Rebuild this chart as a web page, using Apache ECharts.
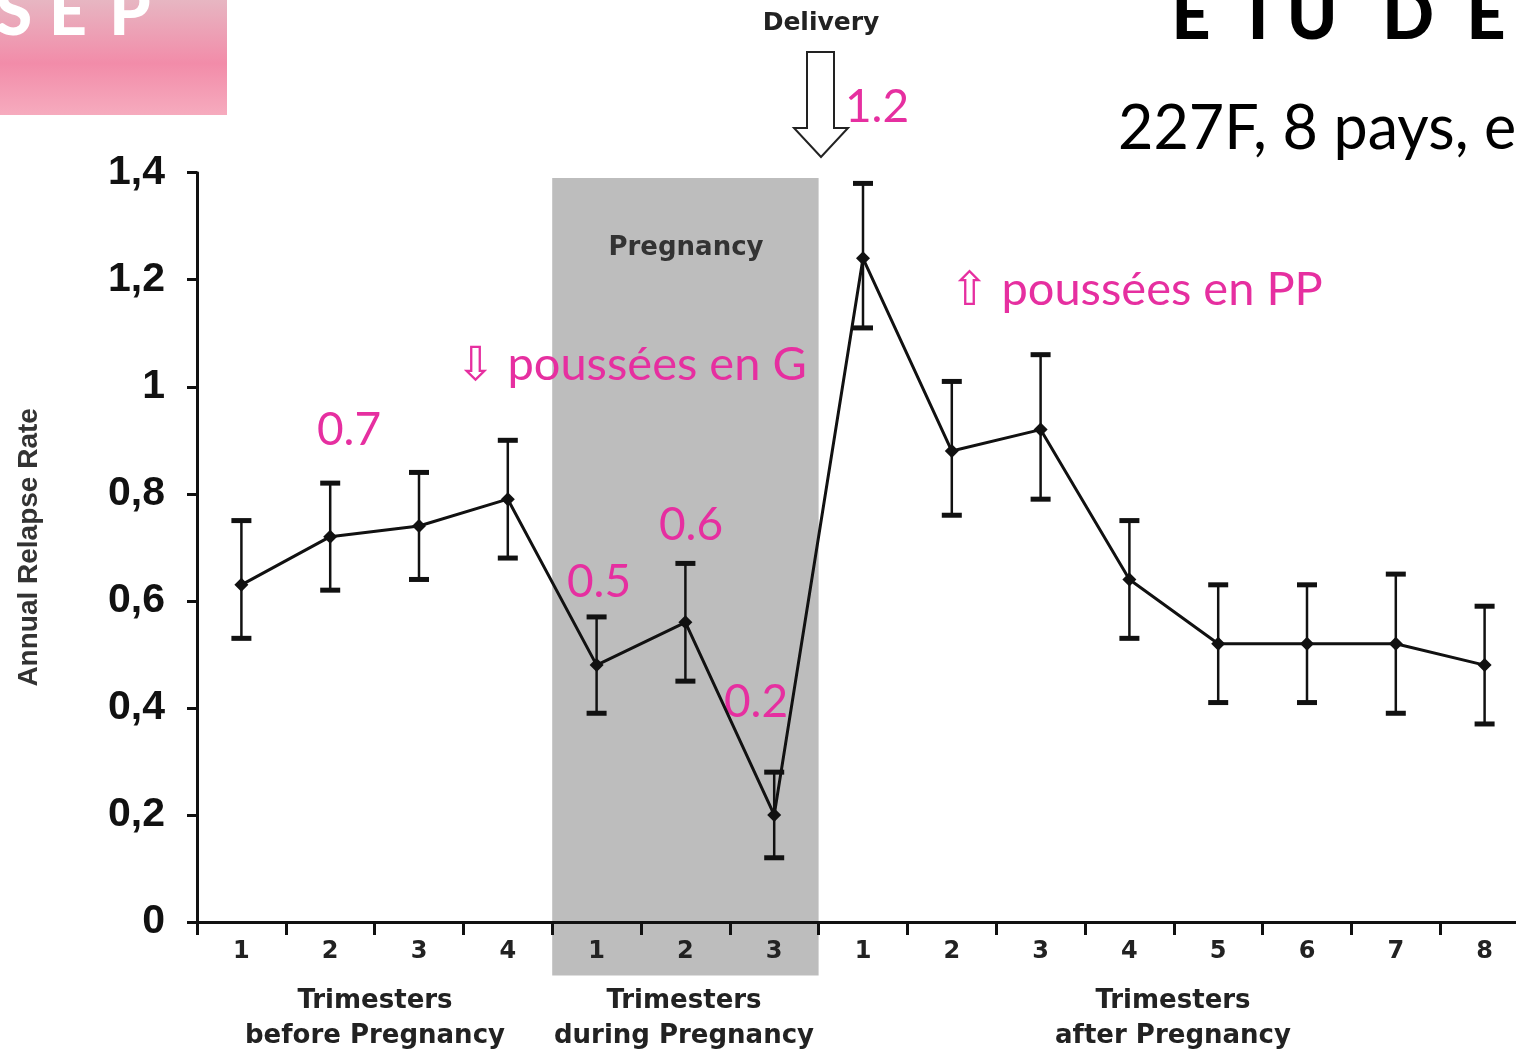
<!DOCTYPE html>
<html><head><meta charset="utf-8">
<script src="https://cdn.jsdelivr.net/npm/echarts@6/dist/echarts.min.js"></script>
<style>html,body{margin:0;padding:0;background:#fff;overflow:hidden}#c{width:1529px;height:1054px}</style>
</head><body><div id="c"></div>
<script>
// ---- data ----
const categories = ['B1','B2','B3','B4','P1','P2','P3','A1','A2','A3','A4','A5','A6','A7','A8'];
const tickLabels = ['1','2','3','4','1','2','3','1','2','3','4','5','6','7','8'];
const relapseRate = [0.63,0.72,0.74,0.79,0.48,0.56,0.20,1.24,0.88,0.92,0.64,0.52,0.52,0.52,0.48];
const errLow  = [0.53,0.62,0.64,0.68,0.39,0.45,0.12,1.11,0.76,0.79,0.53,0.41,0.41,0.39,0.37];
const errHigh = [0.75,0.82,0.84,0.90,0.57,0.67,0.28,1.38,1.01,1.06,0.75,0.63,0.63,0.65,0.59];
const yMin = 0, yMax = 1.4, yInterval = 0.2;
// pregnancy band: first category, last category, bottom value, top value
const pregnancyBand = [[4, 6, -0.1, 1.39]];
const groupLabels = [
  {text:'Trimesters\nbefore Pregnancy', x:375},
  {text:'Trimesters\nduring Pregnancy', x:684},
  {text:'Trimesters\nafter Pregnancy', x:1173}
];
const annotations = [
  {text:'0.7', x:349, y:430},
  {text:'0.5', x:599, y:582},
  {text:'0.6', x:691, y:525},
  {text:'0.2', x:756, y:702},
  {text:'1.2', x:877, y:107}
];

const MAG = '#e62fa0';
const magFont = "Lato, 'DejaVu Sans', sans-serif";

const chart = echarts.init(document.getElementById('c'), null, {renderer:'canvas'});

const graphic = [
  {type:'rect', shape:{x:0,y:0,width:227,height:115}, z:1,
   style:{fill:new echarts.graphic.LinearGradient(0,0,0,1,[
     {offset:0,color:'#e7b6c2'},{offset:0.55,color:'#f28ca9'},{offset:1,color:'#f6abbe'}])}},
  ...[['S',14],['E',68],['P',130]].map(([t,x])=>({type:'text', z:2, x:x, y:47,
     style:{text:t, fill:'#fff', font:"900 66px Lato, sans-serif", textAlign:'center', textVerticalAlign:'bottom'}})),
  ...[['E',1191],['T',1258],['U',1312],['D',1408],['E',1486]].map(([t,x])=>({type:'text', z:2, x:x, y:51,
     style:{text:t, fill:'#000', font:"900 68px Lato, sans-serif", textAlign:'center', textVerticalAlign:'bottom'}})),
  {type:'text', x:1118, y:160, z:2, style:{text:'227F, 8 pays, e', fill:'#000', font:"61px Lato, sans-serif", textAlign:'left', textVerticalAlign:'bottom'}},
  {type:'text', x:821, y:23, z:2, style:{text:'Delivery', fill:'#222', font:"bold 25px 'DejaVu Sans', sans-serif", textAlign:'center', textVerticalAlign:'middle'}},
  {type:'polygon', z:2, shape:{points:[[807,52],[834,52],[834,128],[848,128],[821,157],[794,128],[807,128]]},
   style:{fill:'#fff', stroke:'#222', lineWidth:2}},
  {type:'text', x:686, y:248, z:2, style:{text:'Pregnancy', fill:'#333', font:"bold 26px 'DejaVu Sans', sans-serif", textAlign:'center', textVerticalAlign:'middle'}},
  ...groupLabels.map(g=>({type:'text', x:g.x, y:1019, z:2,
     style:{text:g.text, fill:'#222', font:"bold 26px 'DejaVu Sans', sans-serif", textAlign:'center', textVerticalAlign:'middle', lineHeight:35}})),
  ...annotations.map(a=>({type:'text', x:a.x, y:a.y, z:5,
     style:{text:a.text, fill:MAG, font:"46px "+magFont, textAlign:'center', textVerticalAlign:'middle'}})),
  {type:'text', x:456, y:365, z:5, style:{text:'\u21E9 poussées en G', fill:MAG, font:"47px "+magFont, textAlign:'left', textVerticalAlign:'middle'}},
  {type:'text', x:950, y:290, z:5, style:{text:'\u21E7 poussées en PP', fill:MAG, font:"47px "+magFont, textAlign:'left', textVerticalAlign:'middle'}}
];

chart.setOption({
  backgroundColor:'#fff',
  animation:false,
  grid:{left:197, top:172.7, right:0, bottom:132, containLabel:false, outerBoundsMode:'none'},
  xAxis:{
    type:'category', data:categories, boundaryGap:true,
    axisLine:{show:true, lineStyle:{color:'#111', width:3}},
    axisTick:{show:true, interval:0, length:13, lineStyle:{color:'#111', width:3}},
    axisLabel:{interval:0, margin:18, color:'#222', fontSize:24, fontWeight:'bold', fontFamily:"'DejaVu Sans', sans-serif",
      formatter:(v,i)=>tickLabels[i]},
    splitLine:{show:false}, z:3
  },
  yAxis:{
    type:'value', min:yMin, max:yMax, interval:yInterval,
    name:'Annual Relapse Rate', nameLocation:'middle', nameGap:154, nameRotate:90,
    nameTextStyle:{color:'#333', fontSize:28, fontWeight:'bold', fontFamily:"'Liberation Sans', Arial, sans-serif"},
    axisLine:{show:true, lineStyle:{color:'#111', width:3}},
    axisTick:{show:true, length:10, lineStyle:{color:'#111', width:3}},
    axisLabel:{margin:32, color:'#111', fontSize:41, fontWeight:'bold', fontFamily:"'Liberation Sans', Arial, sans-serif",
      formatter:v=>String(Math.round(v*10)/10).replace('.',',')},
    splitLine:{show:false}, z:3
  },
  graphic:graphic,
  series:[
    {
      type:'custom', name:'band', z:-1, clip:false, silent:true,
      data:pregnancyBand,
      encode:{x:[0,1], y:[2,3]},
      renderItem:(params, api)=>{
        const a = api.coord([api.value(0), api.value(3)]);
        const b = api.coord([api.value(1), api.value(2)]);
        const bw = api.size([1,0])[0];
        const x0 = a[0]-bw/2, x1 = b[0]+bw/2;
        return {type:'rect', shape:{x:x0, y:a[1], width:x1-x0, height:b[1]-a[1]}, style:{fill:'#bdbdbd'}};
      }
    },
    {
      type:'custom', name:'error', z:4, clip:false,
      data:categories.map((c,i)=>[i, errLow[i], errHigh[i]]),
      encode:{x:0, y:[1,2]},
      renderItem:(params, api)=>{
        const x = api.value(0);
        const lo = api.coord([x, api.value(1)]);
        const hi = api.coord([x, api.value(2)]);
        const w = 10;
        return {type:'group', children:[
          {type:'line', shape:{x1:lo[0],y1:lo[1],x2:hi[0],y2:hi[1]}, style:{stroke:'#111', lineWidth:2.5}},
          {type:'line', shape:{x1:lo[0]-w,y1:lo[1],x2:lo[0]+w,y2:lo[1]}, style:{stroke:'#111', lineWidth:5}},
          {type:'line', shape:{x1:hi[0]-w,y1:hi[1],x2:hi[0]+w,y2:hi[1]}, style:{stroke:'#111', lineWidth:5}}
        ]};
      }
    },
    {
      type:'line', name:'ARR', z:5, data:relapseRate,
      symbol:'diamond', symbolSize:14, showSymbol:true,
      lineStyle:{color:'#111', width:3},
      itemStyle:{color:'#111'}
    }
  ]
});
</script></body></html>
